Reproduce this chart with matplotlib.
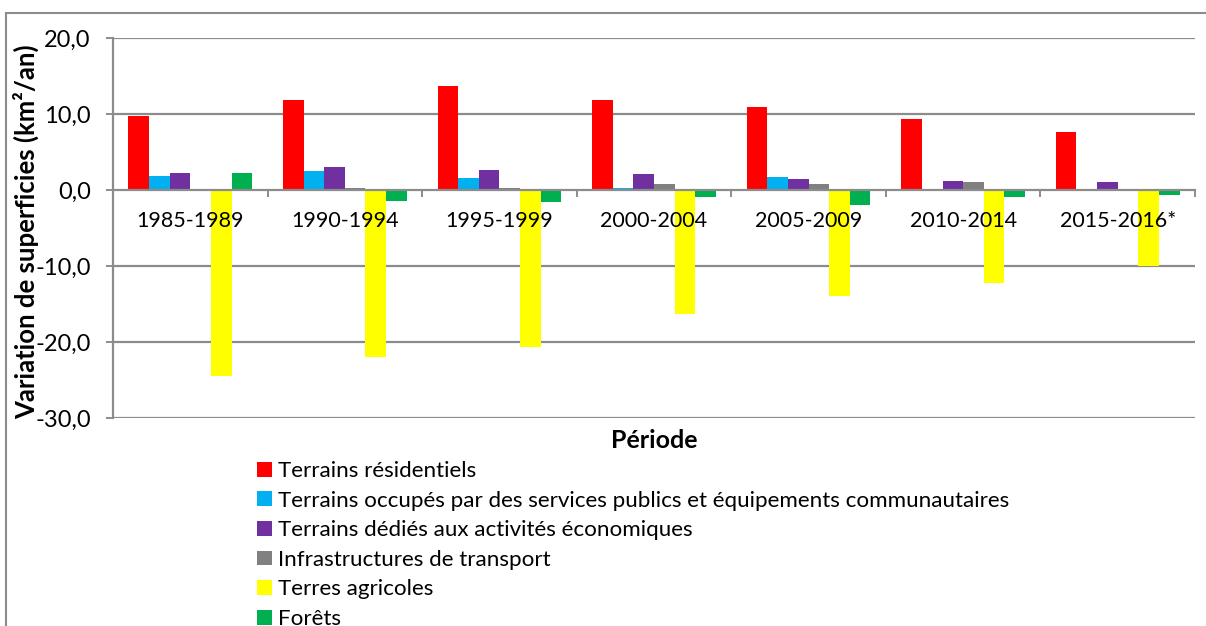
import numpy as np
import matplotlib
matplotlib.use("Agg")
import matplotlib.pyplot as plt
from matplotlib.patches import Rectangle

plt.rcParams['font.family'] = ['Lato', 'DejaVu Sans']

# ---------------------------------------------------------------------------
# Data (km²/an)
# ---------------------------------------------------------------------------
periods = ["1985-1989", "1990-1994", "1995-1999", "2000-2004",
           "2005-2009", "2010-2014", "2015-2016*"]

series_names = [
    "Terrains résidentiels",
    "Terrains occupés par des services publics et équipements communautaires",
    "Terrains dédiés aux activités économiques",
    "Infrastructures de transport",
    "Terres agricoles",
    "Forêts",
]

residentiels = [9.7, 11.8, 13.7, 11.8, 10.9, 9.3, 7.6]
services_publics = [1.9, 2.5, 1.6, 0.3, 1.7, 0.1, 0.05]
activites_eco = [2.2, 3.0, 2.6, 2.1, 1.5, 1.2, 1.05]
transport = [-0.1, 0.2, 0.25, 0.8, 0.8, 1.0, 0.15]
agricoles = [-24.5, -22.0, -20.6, -16.3, -14.0, -12.2, -10.0]
forets = [2.3, -1.4, -1.6, -0.9, -2.0, -0.9, -0.6]

series_values = [residentiels, services_publics, activites_eco,
                 transport, agricoles, forets]
colors = ["#FF0000", "#00B0F0", "#7030A0", "#808080", "#FFFF00", "#00B050"]

y_ticks = [-30, -20, -10, 0, 10, 20]
y_ticklabels = ["-30,0", "-20,0", "-10,0", "0,0", "10,0", "20,0"]

# ---------------------------------------------------------------------------
# Figure
# ---------------------------------------------------------------------------
W, H = 1206, 626
fig = plt.figure(figsize=(W / 100, H / 100), dpi=100)

# frame of the chart object (Excel style) and cut-off caption above it
fig.patches.append(Rectangle((6 / W, -0.1), 1.2, 1 - 13 / H + 0.1,
                             transform=fig.transFigure, fill=False,
                             edgecolor="#8C8C8C", linewidth=1.5))
fig.text(5 / W, 1 + 3.5 / H,
         "igure 4 : Variation des superficies (km²/an) des principales "
         "occupations du sol par période",
         color="#007A87", fontweight="bold", fontsize=16, va="baseline",
         ha="left")

ax = fig.add_axes([113 / W, 1 - 418 / H, (1195 - 113) / W, (418 - 38) / H])

x = np.arange(len(periods))
n = len(series_values)
width = 1 / (n + 1.5)
for j, (name, vals, col) in enumerate(zip(series_names, series_values, colors)):
    ax.bar(x + (j - (n - 1) / 2) * width, vals, width, color=col,
           label=name, zorder=1)

ax.set_xlim(-0.5, len(periods) - 0.5)
ax.set_ylim(-30, 20)
ax.set_yticks(y_ticks)
ax.set_yticklabels(y_ticklabels)
for yv in y_ticks:
    if yv != 0:
        ax.axhline(yv, color="#8C8C8C", linewidth=1.6, zorder=0)

for side in ["top", "right"]:
    ax.spines[side].set_visible(False)
ax.spines['left'].set_color("#8C8C8C")
ax.spines['left'].set_linewidth(1.6)
ax.spines['bottom'].set_position(('data', 0))
ax.spines['bottom'].set_color("#8C8C8C")
ax.spines['bottom'].set_linewidth(1.6)

ax.set_xticks(x)
ax.set_xticklabels(periods)
ax.set_xticks(np.arange(len(periods) + 1) - 0.5, minor=True)
ax.tick_params(axis='x', which='major', length=0, pad=15, labelsize=15.5)
ax.tick_params(axis='x', which='minor', length=5, width=1.4,
               color="#8C8C8C", direction='out')
ax.tick_params(axis='y', length=5, width=1.4, color="#8C8C8C",
               labelsize=17, pad=11)

ax.set_ylabel("Variation de superficies (km²/an)", fontweight="bold",
              fontsize=18.5)
ax.yaxis.set_label_coords(-0.068, 0.49)
fig.text(654 / W, 1 - 440 / H, "Période", fontweight="bold", fontsize=18,
         ha="center", va="center")

handles, labels = ax.get_legend_handles_labels()
fig.legend(handles, labels, loc="upper left",
           bbox_to_anchor=(257 / W, 1 - 461 / H), frameon=False,
           fontsize=16.1, handlelength=0.65, handleheight=0.65,
           handletextpad=0.3, labelspacing=0.43, borderpad=0,
           borderaxespad=0)

fig.savefig("out.png", dpi=100)
